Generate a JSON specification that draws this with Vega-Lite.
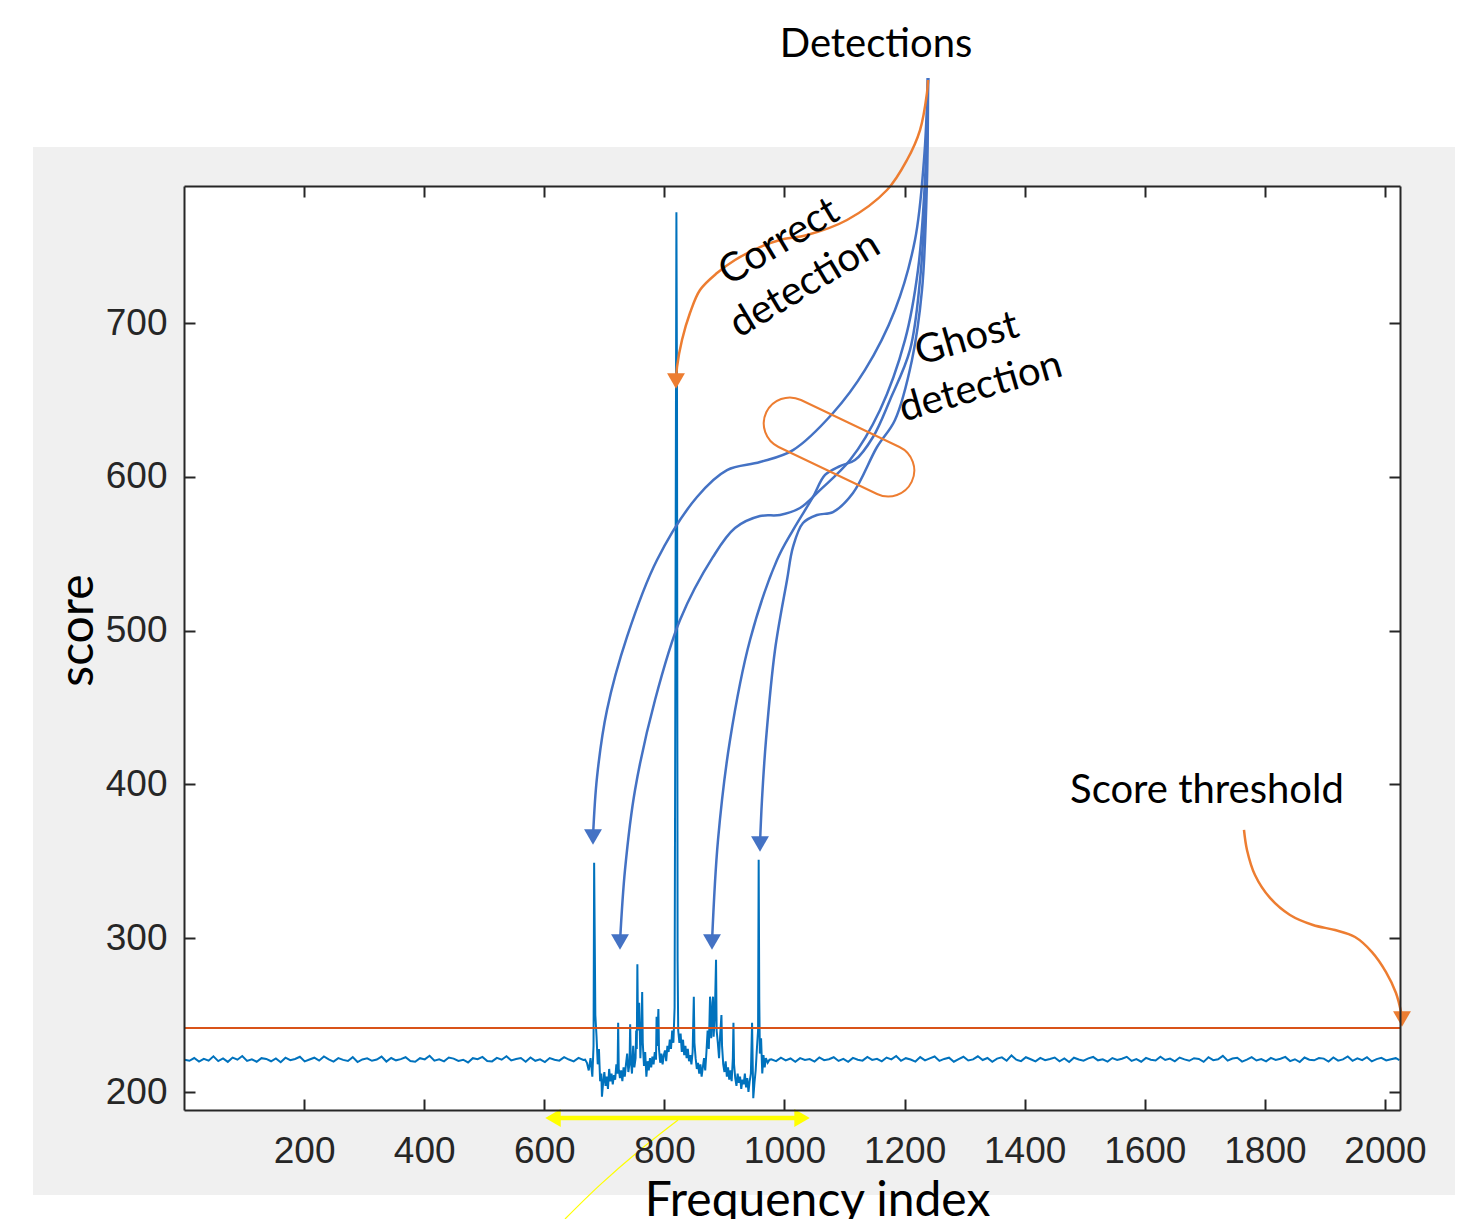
{
  "$schema": "https://vega.github.io/schema/vega-lite/v6.json",
  "width": 1216,
  "height": 924,
  "autosize": {"type": "none"},
  "padding": {"left": 184, "top": 186, "right": 60, "bottom": 109},
  "background": "white",
  "config": {
    "view": {"stroke": null},
    "axis": {
      "grid": false,
      "domainColor": "#262626",
      "domainWidth": 2,
      "tickColor": "#262626",
      "tickWidth": 2,
      "tickSize": -11,
      "labelColor": "#262626",
      "labelFont": "Liberation Sans",
      "labelFontSize": 37,
      "labelFontWeight": "normal"
    }
  },
  "datasets": {
    "signal": [
      {"x":1,"y":221},{"x":9,"y":220.3},{"x":17,"y":222.1},{"x":25,"y":219.8},{"x":33,"y":221.6},{"x":41,"y":220.4},{"x":49,"y":223.2},{"x":57,"y":220.1},{"x":65,"y":221.9},{"x":73,"y":219.6},{"x":81,"y":222.4},{"x":89,"y":221},{"x":97,"y":223.4},{"x":105,"y":220.2},{"x":113,"y":221.3},{"x":121,"y":219.7},{"x":129,"y":222},{"x":137,"y":221.5},{"x":145,"y":220},{"x":153,"y":221.8},{"x":161,"y":219.4},{"x":169,"y":222.3},{"x":177,"y":220.7},{"x":185,"y":221.5},{"x":193,"y":222.9},{"x":201,"y":219.9},{"x":209,"y":221.1},{"x":217,"y":222.3},{"x":225,"y":220.4},{"x":233,"y":223.1},{"x":241,"y":221.2},{"x":249,"y":219.8},{"x":257,"y":222},{"x":265,"y":220.9},{"x":273,"y":220.2},{"x":281,"y":222.7},{"x":289,"y":219.5},{"x":297,"y":221.2},{"x":305,"y":221.9},{"x":313,"y":220.3},{"x":321,"y":221.1},{"x":329,"y":223},{"x":337,"y":219.8},{"x":345,"y":222.1},{"x":353,"y":220.6},{"x":361,"y":221.4},{"x":369,"y":222.6},{"x":377,"y":220.2},{"x":385,"y":219.7},{"x":393,"y":222},{"x":401,"y":221.2},{"x":409,"y":223.6},{"x":417,"y":220.4},{"x":425,"y":221.3},{"x":433,"y":219.9},{"x":441,"y":222.4},{"x":449,"y":221.7},{"x":457,"y":220.2},{"x":465,"y":221},{"x":473,"y":219.2},{"x":481,"y":222},{"x":489,"y":221.3},{"x":497,"y":222.8},{"x":505,"y":220.1},{"x":513,"y":219.9},{"x":521,"y":222.2},{"x":529,"y":221},{"x":537,"y":223.3},{"x":545,"y":220.5},{"x":553,"y":221.4},{"x":561,"y":222.1},{"x":569,"y":219.7},{"x":577,"y":222.5},{"x":585,"y":220.3},{"x":593,"y":221.2},{"x":601,"y":219.5},{"x":609,"y":222.1},{"x":617,"y":221},{"x":625,"y":220.4},{"x":633,"y":222.7},{"x":641,"y":221.1},{"x":649,"y":219.9},{"x":657,"y":222.2},{"x":665,"y":220.8},
      {"x":668,"y":221},{"x":671,"y":219},{"x":674,"y":214},{"x":677,"y":222},{"x":680,"y":210},{"x":682,"y":230},{"x":683,"y":349},{"x":684,"y":300},{"x":685,"y":250},{"x":687,"y":236},{"x":689,"y":218},{"x":691,"y":228},{"x":693,"y":207},{"x":695,"y":212},{"x":696,"y":197},{"x":698,"y":206},{"x":700,"y":213},{"x":702,"y":204},{"x":704,"y":210},{"x":706,"y":202},{"x":708,"y":215},{"x":710,"y":207},{"x":712,"y":212},{"x":714,"y":205},{"x":716,"y":211},{"x":718,"y":208},{"x":720,"y":218},{"x":722,"y":212},{"x":723,"y":245},{"x":724,"y":215},{"x":726,"y":209},{"x":728,"y":214},{"x":730,"y":207},{"x":732,"y":216},{"x":734,"y":210},{"x":736,"y":218},{"x":738,"y":225},{"x":740,"y":213},{"x":742,"y":219},{"x":743,"y":244},{"x":744,"y":222},{"x":746,"y":212},{"x":748,"y":230},{"x":750,"y":216},{"x":752,"y":222},{"x":753,"y":240},{"x":754,"y":228},{"x":755,"y":283},{"x":756,"y":240},{"x":758,"y":258},{"x":760,"y":222},{"x":762,"y":244},{"x":763,"y":265},{"x":764,"y":232},{"x":766,"y":217},{"x":768,"y":226},{"x":770,"y":210},{"x":772,"y":220},{"x":774,"y":214},{"x":776,"y":222},{"x":778,"y":216},{"x":780,"y":223},{"x":782,"y":218},{"x":784,"y":226},{"x":786,"y":221},{"x":787,"y":249},{"x":788,"y":230},{"x":790,"y":254},{"x":791,"y":228},{"x":793,"y":219},{"x":795,"y":225},{"x":797,"y":218},{"x":799,"y":224},{"x":801,"y":227},{"x":803,"y":220},{"x":805,"y":230},{"x":807,"y":226},{"x":809,"y":234},{"x":811,"y":228},{"x":813,"y":240},{"x":815,"y":232},{"x":817,"y":255},{"x":819,"y":600},{"x":820,"y":772},{"x":821,"y":650},{"x":822,"y":285},{"x":823,"y":240},{"x":825,"y":232},{"x":827,"y":238},{"x":829,"y":226},{"x":831,"y":234},{"x":833,"y":224},{"x":835,"y":230},{"x":837,"y":222},{"x":839,"y":228},{"x":841,"y":220},{"x":843,"y":224},{"x":845,"y":218},{"x":847,"y":226},{"x":849,"y":262},{"x":850,"y":232},{"x":852,"y":222},{"x":854,"y":215},{"x":856,"y":219},{"x":858,"y":212},{"x":860,"y":218},{"x":862,"y":210},{"x":864,"y":216},{"x":866,"y":222},{"x":868,"y":214},{"x":870,"y":226},{"x":872,"y":240},{"x":874,"y":228},{"x":876,"y":262},{"x":878,"y":235},{"x":880,"y":258},{"x":881,"y":262},{"x":882,"y":236},{"x":884,"y":250},{"x":886,"y":286},{"x":887,"y":240},{"x":889,"y":232},{"x":891,"y":222},{"x":893,"y":238},{"x":895,"y":250},{"x":896,"y":230},{"x":898,"y":218},{"x":900,"y":213},{"x":902,"y":220},{"x":904,"y":210},{"x":906,"y":216},{"x":908,"y":208},{"x":910,"y":214},{"x":912,"y":207},{"x":914,"y":222},{"x":915,"y":245},{"x":916,"y":218},{"x":918,"y":209},{"x":920,"y":204},{"x":922,"y":212},{"x":924,"y":206},{"x":926,"y":210},{"x":928,"y":202},{"x":930,"y":208},{"x":932,"y":205},{"x":934,"y":212},{"x":936,"y":203},{"x":938,"y":209},{"x":940,"y":200},{"x":942,"y":207},{"x":944,"y":212},{"x":946,"y":245},{"x":947,"y":220},{"x":948,"y":196},{"x":950,"y":206},{"x":952,"y":214},{"x":954,"y":228},{"x":956,"y":240},{"x":957,"y":351},{"x":958,"y":260},{"x":959,"y":225},{"x":961,"y":235},{"x":963,"y":212},{"x":965,"y":224},{"x":967,"y":216},{"x":969,"y":222},{"x":972,"y":219},{"x":975,"y":221},
      {"x":978,"y":221.2},{"x":986,"y":220.1},{"x":994,"y":222.3},{"x":1002,"y":220.6},{"x":1010,"y":221.8},{"x":1018,"y":219.7},{"x":1026,"y":222},{"x":1034,"y":220.9},{"x":1042,"y":221.4},{"x":1050,"y":219.8},{"x":1058,"y":222.5},{"x":1066,"y":220.7},{"x":1074,"y":221.3},{"x":1082,"y":222.6},{"x":1090,"y":220.2},{"x":1098,"y":221.5},{"x":1106,"y":219.6},{"x":1114,"y":222.2},{"x":1122,"y":221},{"x":1130,"y":220.4},{"x":1138,"y":222.8},{"x":1146,"y":220.9},{"x":1154,"y":221.6},{"x":1162,"y":219.9},{"x":1170,"y":222.4},{"x":1178,"y":221.2},{"x":1186,"y":223.4},{"x":1194,"y":220.3},{"x":1202,"y":222},{"x":1210,"y":221.1},{"x":1218,"y":219.8},{"x":1226,"y":222.7},{"x":1234,"y":220.6},{"x":1242,"y":221.9},{"x":1250,"y":223.1},{"x":1258,"y":220.2},{"x":1266,"y":221.5},{"x":1274,"y":222.3},{"x":1282,"y":219.7},{"x":1290,"y":221.4},{"x":1298,"y":222.9},{"x":1306,"y":220.5},{"x":1314,"y":221.2},{"x":1322,"y":223.2},{"x":1330,"y":220.8},{"x":1338,"y":222.1},{"x":1346,"y":219.6},{"x":1354,"y":221.7},{"x":1362,"y":222.5},{"x":1370,"y":220.3},{"x":1378,"y":223.8},{"x":1386,"y":221},{"x":1394,"y":220.1},{"x":1402,"y":222.6},{"x":1410,"y":221.3},{"x":1418,"y":219.9},{"x":1426,"y":222.2},{"x":1434,"y":220.7},{"x":1442,"y":221.5},{"x":1450,"y":222.4},{"x":1458,"y":220},{"x":1466,"y":221.8},{"x":1474,"y":219.5},{"x":1482,"y":222.3},{"x":1490,"y":221.1},{"x":1498,"y":220.4},{"x":1506,"y":221.9},{"x":1514,"y":222.8},{"x":1522,"y":220.6},{"x":1530,"y":221.3},{"x":1538,"y":219.8},{"x":1546,"y":222.1},{"x":1554,"y":220.9},{"x":1562,"y":221.6},{"x":1570,"y":222.9},{"x":1578,"y":220.2},{"x":1586,"y":221.4},{"x":1594,"y":219.7},{"x":1602,"y":222.2},{"x":1610,"y":221},{"x":1618,"y":220.5},{"x":1626,"y":223},{"x":1634,"y":220.8},{"x":1642,"y":221.7},{"x":1650,"y":219.9},{"x":1658,"y":222.4},{"x":1666,"y":221.2},{"x":1674,"y":220.3},{"x":1682,"y":222},{"x":1690,"y":221.5},{"x":1698,"y":219.6},{"x":1706,"y":222.6},{"x":1714,"y":220.7},{"x":1722,"y":221.3},{"x":1730,"y":223.5},{"x":1738,"y":220.4},{"x":1746,"y":221.8},{"x":1754,"y":222.3},{"x":1762,"y":219.8},{"x":1770,"y":221.1},{"x":1778,"y":222.7},{"x":1786,"y":220.5},{"x":1794,"y":221.4},{"x":1802,"y":219.9},{"x":1810,"y":222.2},{"x":1818,"y":220.9},{"x":1826,"y":221.6},{"x":1834,"y":222.8},{"x":1842,"y":220.1},{"x":1850,"y":221.3},{"x":1858,"y":219.5},{"x":1866,"y":222.4},{"x":1874,"y":221},{"x":1882,"y":220.6},{"x":1890,"y":222.1},{"x":1898,"y":221.7},{"x":1906,"y":219.8},{"x":1914,"y":222.5},{"x":1922,"y":220.4},{"x":1930,"y":221.2},{"x":1938,"y":223.1},{"x":1946,"y":220.3},{"x":1954,"y":221.9},{"x":1962,"y":220.7},{"x":1970,"y":222.6},{"x":1978,"y":219.9},{"x":1986,"y":221.4},{"x":1994,"y":222.2},{"x":2002,"y":220.5},{"x":2010,"y":221.3},{"x":2018,"y":222},{"x":2024,"y":220.8}
    ],
    "blueCurves": [
      {"c":"A","o":1,"x":1239.0,"y":859.3},{"c":"A","o":2,"x":1232.3,"y":806.0},{"c":"A","o":3,"x":1217.3,"y":754.0},{"c":"A","o":4,"x":1184.0,"y":708.5},{"c":"A","o":5,"x":1134.1,"y":669.5},{"c":"A","o":6,"x":1080.8,"y":641.5},{"c":"A","o":7,"x":1014.2,"y":617.4},{"c":"A","o":8,"x":959.2,"y":609.6},{"c":"A","o":9,"x":904.3,"y":604.4},{"c":"A","o":10,"x":854.3,"y":586.9},{"c":"A","o":11,"x":787.7,"y":545.9},{"c":"A","o":12,"x":737.7,"y":495.9},{"c":"A","o":13,"x":704.4,"y":448.4},{"c":"A","o":14,"x":687.8,"y":404.8},{"c":"A","o":15,"x":681.1,"y":365.8},
      {"c":"B","o":1,"x":1239.0,"y":859.3},{"c":"B","o":2,"x":1234.0,"y":793.0},{"c":"B","o":3,"x":1222.3,"y":734.5},{"c":"B","o":4,"x":1200.7,"y":689.0},{"c":"B","o":5,"x":1159.1,"y":643.5},{"c":"B","o":6,"x":1109.1,"y":610.9},{"c":"B","o":7,"x":1059.1,"y":591.4},{"c":"B","o":8,"x":1025.8,"y":579.7},{"c":"B","o":9,"x":992.5,"y":575.2},{"c":"B","o":10,"x":959.2,"y":574.5},{"c":"B","o":11,"x":917.6,"y":566.7},{"c":"B","o":12,"x":880.9,"y":547.9},{"c":"B","o":13,"x":826.0,"y":506.9},{"c":"B","o":14,"x":784.4,"y":454.9},{"c":"B","o":15,"x":751.1,"y":396.4},{"c":"B","o":16,"x":734.4,"y":344.4},{"c":"B","o":17,"x":726.1,"y":297.6},
      {"c":"C","o":1,"x":1239.0,"y":859.3},{"c":"C","o":2,"x":1235.6,"y":793.0},{"c":"C","o":3,"x":1225.7,"y":728.0},{"c":"C","o":4,"x":1209.0,"y":682.5},{"c":"C","o":5,"x":1175.7,"y":650.0},{"c":"C","o":6,"x":1147.4,"y":625.9},{"c":"C","o":7,"x":1117.4,"y":610.9},{"c":"C","o":8,"x":1092.4,"y":607.0},{"c":"C","o":9,"x":1067.5,"y":601.2},{"c":"C","o":10,"x":1047.5,"y":586.9},{"c":"C","o":11,"x":1014.2,"y":565.4},{"c":"C","o":12,"x":987.5,"y":545.9},{"c":"C","o":13,"x":942.6,"y":493.9},{"c":"C","o":14,"x":909.3,"y":428.9},{"c":"C","o":15,"x":889.3,"y":363.9},{"c":"C","o":16,"x":879.3,"y":297.6},
      {"c":"D","o":1,"x":1239.0,"y":859.3},{"c":"D","o":2,"x":1237.3,"y":793.0},{"c":"D","o":3,"x":1229.0,"y":721.5},{"c":"D","o":4,"x":1212.3,"y":676.0},{"c":"D","o":5,"x":1184.0,"y":637.0},{"c":"D","o":6,"x":1154.1,"y":619.4},{"c":"D","o":7,"x":1114.1,"y":589.5},{"c":"D","o":8,"x":1080.8,"y":577.1},{"c":"D","o":9,"x":1054.1,"y":575.2},{"c":"D","o":10,"x":1030.8,"y":570.0},{"c":"D","o":11,"x":1014.2,"y":554.4},{"c":"D","o":12,"x":1004.2,"y":532.9},{"c":"D","o":13,"x":984.2,"y":487.4},{"c":"D","o":14,"x":969.2,"y":428.9},{"c":"D","o":15,"x":962.5,"y":389.9},{"c":"D","o":16,"x":959.2,"y":361.3}
    ],
    "orangeCurves": [
      {"c":"O","o":1,"x":1239.0,"y":858.0},{"c":"O","o":2,"x":1237.3,"y":849.6},{"c":"O","o":3,"x":1225.7,"y":825.5},{"c":"O","o":4,"x":1204.0,"y":806.0},{"c":"O","o":5,"x":1170.7,"y":786.5},{"c":"O","o":6,"x":1104.1,"y":767.0},{"c":"O","o":7,"x":1037.5,"y":757.2},{"c":"O","o":8,"x":992.5,"y":754.0},{"c":"O","o":9,"x":959.2,"y":749.4},{"c":"O","o":10,"x":917.6,"y":741.0},{"c":"O","o":11,"x":887.6,"y":732.5},{"c":"O","o":12,"x":859.3,"y":721.5},{"c":"O","o":13,"x":842.6,"y":706.5},{"c":"O","o":14,"x":829.3,"y":689.0},{"c":"O","o":15,"x":821.0,"y":671.4},{"c":"O","o":16,"x":819.3,"y":662.3},
      {"c":"T","o":1,"x":1765.2,"y":370.4},{"c":"T","o":2,"x":1770.2,"y":357.4},{"c":"T","o":3,"x":1783.5,"y":341.1},{"c":"T","o":4,"x":1808.5,"y":326.2},{"c":"T","o":5,"x":1841.8,"y":315.1},{"c":"T","o":6,"x":1880.1,"y":308.6},{"c":"T","o":7,"x":1916.8,"y":305.3},{"c":"T","o":8,"x":1950.1,"y":300.8},{"c":"T","o":9,"x":1978.4,"y":291.0},{"c":"T","o":10,"x":2001.7,"y":278.0},{"c":"T","o":11,"x":2018.3,"y":264.4},{"c":"T","o":12,"x":2026.7,"y":252.0},{"c":"T","o":13,"x":2028.3,"y":247.5}
    ],
    "heads": [
      {"x":681.1,"y":365.8,"shape":"triangle-down","color":"#4472C4"},
      {"x":726.1,"y":297.6,"shape":"triangle-down","color":"#4472C4"},
      {"x":879.3,"y":297.6,"shape":"triangle-down","color":"#4472C4"},
      {"x":959.2,"y":361.3,"shape":"triangle-down","color":"#4472C4"},
      {"x":819.3,"y":662.3,"shape":"triangle-down","color":"#ED7D31"},
      {"x":2028.3,"y":247.5,"shape":"triangle-down","color":"#ED7D31"},
      {"x":614.5,"y":183.1,"shape":"triangle-left","color":"#FFFF00"},
      {"x":1029.2,"y":183.1,"shape":"triangle-right","color":"#FFFF00"}
    ]
  },
  "layer": [
    {
      "encoding": {
        "x": {"field": "x", "type": "quantitative", "scale": {"domain": [0, 2025], "nice": false, "zero": false},
              "axis": {"orient": "bottom", "zindex": 2, "format": "d", "values": [200,400,600,800,1000,1200,1400,1600,1800,2000], "labelPadding": 34,
                       "title": "Frequency index", "titleFont": "Lato", "titleFontSize": 48, "titleFontWeight": "normal", "titleColor": "#000000",
                       "titleX": 633, "titleY": 105, "titleAlign": "center", "titleBaseline": "alphabetic"}},
        "y": {"field": "y", "type": "quantitative", "scale": {"domain": [188.3, 789.1], "nice": false, "zero": false},
              "axis": {"orient": "left", "zindex": 2, "format": "d", "values": [200,300,400,500,600,700], "labelPadding": 28,
                       "title": "score", "titleFont": "Lato", "titleFontSize": 48, "titleFontWeight": "normal", "titleColor": "#000000",
                       "titleX": -92, "titleY": 444, "titleAngle": -90, "titleAlign": "center", "titleBaseline": "alphabetic"}}
      },
      "layer": [
        {
          "data": {"values": [{"x": -251.4, "x2": 2116.6, "y": 133.0, "y2": 814.5}]},
          "mark": {"type": "rect", "fill": "#F0F0F0", "clip": false},
          "encoding": {"x2": {"field": "x2"}, "y2": {"field": "y2"}}
        },
        {
          "data": {"values": [{"x": 0, "x2": 2025, "y": 188.3, "y2": 789.1}]},
          "mark": {"type": "rect", "fill": "#FFFFFF", "clip": false},
          "encoding": {"x2": {"field": "x2"}, "y2": {"field": "y2"}}
        },
        {
          "data": {"name": "signal"},
          "mark": {"type": "line", "color": "#0072BD", "strokeWidth": 2, "clip": false}
        },
        {
          "data": {"values": [{"x": 0, "x2": 2025, "y": 241.6}]},
          "mark": {"type": "rule", "color": "#D95319", "strokeWidth": 2, "clip": false},
          "encoding": {"x2": {"field": "x2"}}
        },
        {
          "data": {"name": "blueCurves"},
          "mark": {"type": "line", "color": "#4472C4", "strokeWidth": 2.5, "interpolate": "catmull-rom", "clip": false},
          "encoding": {"detail": {"field": "c"}, "order": {"field": "o"}}
        },
        {
          "data": {"name": "orangeCurves"},
          "mark": {"type": "line", "color": "#ED7D31", "strokeWidth": 2.5, "interpolate": "catmull-rom", "clip": false},
          "encoding": {"detail": {"field": "c"}, "order": {"field": "o"}}
        },
        {
          "data": {"values": [{"o":1,"x":822.7,"y":181.8},{"o":2,"x":759.4,"y":162.3},{"o":3,"x":692.8,"y":139.6},{"o":4,"x":634.5,"y":117.4}]},
          "mark": {"type": "line", "color": "#FFFF00", "strokeWidth": 1.2, "interpolate": "catmull-rom", "clip": false},
          "encoding": {"order": {"field": "o"}}
        },
        {
          "data": {"values": [{"x": 609.5, "y": 183.1}, {"x": 1034.2, "y": 183.1}]},
          "mark": {"type": "line", "color": "#FFFF00", "strokeWidth": 4.5, "clip": false}
        },
        {
          "data": {"name": "heads"},
          "mark": {"type": "point", "filled": true, "opacity": 1, "size": 320, "clip": false},
          "encoding": {"shape": {"field": "shape", "type": "nominal", "scale": null}, "color": {"field": "color", "type": "nominal", "scale": null}}
        },
        {
          "data": {"values": [{"x": 1090.8, "y": 619.4}]},
          "mark": {"type": "point", "filled": false, "opacity": 1, "stroke": "#ED7D31", "strokeWidth": 2, "size": 25985, "angle": 25.5, "clip": false,
                   "shape": "M-0.677,-0.323 L0.677,-0.323 C0.855,-0.323 1,-0.178 1,0 C1,0.178 0.855,0.323 0.677,0.323 L-0.677,0.323 C-0.855,0.323 -1,0.178 -1,0 C-1,-0.178 -0.855,-0.323 -0.677,-0.323 Z"}
        },
        {
          "data": {"values": [{"x": 1152.4, "y": 873.0, "t": "Detections"}, {"x": 1703.6, "y": 387.9, "t": "Score threshold"}]},
          "mark": {"type": "text", "font": "Lato", "fontSize": 40, "color": "#000000", "align": "center", "baseline": "alphabetic", "clip": false},
          "encoding": {"text": {"field": "t"}}
        },
        {
          "data": {"values": [{"x": 990.9, "y": 752.7, "t": "Correct\ndetection", "a": -31}, {"x": 1303.9, "y": 689.6, "t": "Ghost\ndetection", "a": -16}]},
          "mark": {"type": "text", "font": "Lato", "fontSize": 40, "lineHeight": 50, "lineBreak": "\n", "color": "#000000", "align": "center", "baseline": "middle", "clip": false},
          "encoding": {"text": {"field": "t"}, "angle": {"field": "a", "type": "quantitative", "scale": null}}
        }
      ]
    },
    {
      "data": {"values": [{"x": 0, "y": 200}]},
      "mark": {"type": "point", "opacity": 0},
      "encoding": {
        "x": {"field": "x", "type": "quantitative", "scale": {"domain": [0, 2025], "nice": false, "zero": false},
              "axis": {"orient": "top", "zindex": 2, "values": [200,400,600,800,1000,1200,1400,1600,1800,2000], "labels": false, "title": null}},
        "y": {"field": "y", "type": "quantitative", "scale": {"domain": [188.3, 789.1], "nice": false, "zero": false},
              "axis": {"orient": "right", "zindex": 2, "values": [200,300,400,500,600,700], "labels": false, "title": null}}
      }
    }
  ],
  "resolve": {"scale": {"x": "independent", "y": "independent"}}
}
